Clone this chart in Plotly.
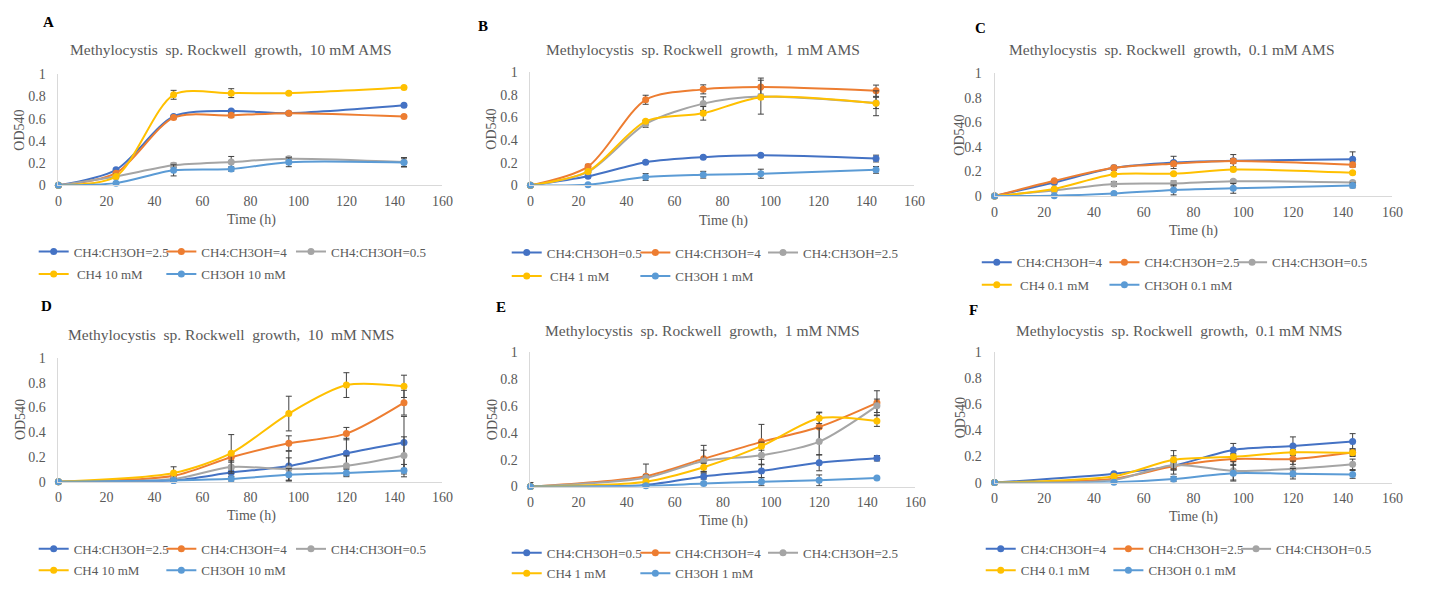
import plotly.graph_objects as go

W, H = 1442, 591

# ---------------- data ----------------
times_ams = [0, 24, 48, 72, 96, 144]
times_nms = [0, 48, 72, 96, 120, 144]

x_ticks = [0, 20, 40, 60, 80, 100, 120, 140, 160]
y_ticks = [0, 0.2, 0.4, 0.6, 0.8, 1]

colors = ["#4472C4", "#ED7D31", "#A5A5A5", "#FFC000", "#5B9BD5"]

titles = [
    "Methylocystis  sp. Rockwell  growth,  10 mM AMS",
    "Methylocystis  sp. Rockwell  growth,  1 mM AMS",
    "Methylocystis  sp. Rockwell  growth,  0.1 mM AMS",
    "Methylocystis  sp. Rockwell  growth,  10  mM NMS",
    "Methylocystis  sp. Rockwell  growth,  1 mM NMS",
    "Methylocystis  sp. Rockwell  growth,  0.1 mM NMS",
]
letters = ["A", "B", "C", "D", "E", "F"]

a_labels = ["CH4:CH3OH=2.5", "CH4:CH3OH=4", "CH4:CH3OH=0.5", " CH4 10 mM", "CH3OH 10 mM"]
a_vals = [
    [0, 0.14, 0.62, 0.67, 0.65, 0.72],
    [0, 0.11, 0.61, 0.63, 0.65, 0.62],
    [0, 0.08, 0.18, 0.21, 0.24, 0.21],
    [0, 0.08, 0.815, 0.83, 0.83, 0.88],
    [0, 0.02, 0.135, 0.147, 0.208, 0.205],
]
a_errs = [
    [0, 0.01, 0.01, 0.01, 0.01, 0.01],
    [0, 0.01, 0.01, 0.02, 0.01, 0.01],
    [0, 0.01, 0.02, 0.05, 0.02, 0.04],
    [0, 0.02, 0.04, 0.04, 0.01, 0.01],
    [0, 0.01, 0.05, 0.02, 0.04, 0.04],
]

b_labels = ["CH4:CH3OH=0.5", "CH4:CH3OH=4", "CH4:CH3OH=2.5", " CH4 1 mM", "CH3OH 1 mM"]
b_vals = [
    [0, 0.08, 0.205, 0.249, 0.266, 0.237],
    [0, 0.166, 0.757, 0.849, 0.869, 0.837],
    [0, 0.12, 0.543, 0.723, 0.786, 0.729],
    [0, 0.123, 0.566, 0.637, 0.78, 0.726],
    [0, 0.005, 0.074, 0.094, 0.103, 0.137],
]
b_errs = [
    [0, 0.01, 0.01, 0.01, 0.01, 0.03],
    [0, 0.02, 0.04, 0.04, 0.08, 0.05],
    [0, 0.01, 0.03, 0.06, 0.02, 0.05],
    [0, 0.01, 0.01, 0.06, 0.15, 0.11],
    [0, 0.01, 0.03, 0.03, 0.04, 0.03],
]

c_labels = ["CH4:CH3OH=4", "CH4:CH3OH=2.5", "CH4:CH3OH=0.5", " CH4 0.1 mM", "CH3OH 0.1 mM"]
c_vals = [
    [0, 0.11, 0.23, 0.274, 0.288, 0.30],
    [0, 0.124, 0.23, 0.264, 0.285, 0.256],
    [0, 0.045, 0.098, 0.103, 0.121, 0.11],
    [0, 0.058, 0.177, 0.182, 0.216, 0.19],
    [0, 0.003, 0.021, 0.05, 0.063, 0.087],
]
c_errs = [
    [0, 0.01, 0.02, 0.05, 0.05, 0.06],
    [0, 0.01, 0.01, 0.02, 0.02, 0.02],
    [0, 0.01, 0.02, 0.02, 0.01, 0.01],
    [0, 0.01, 0.01, 0.01, 0.01, 0.01],
    [0, 0.01, 0.01, 0.04, 0.04, 0.02],
]

d_labels = ["CH4:CH3OH=2.5", "CH4:CH3OH=4", "CH4:CH3OH=0.5", "CH4 10 mM", "CH3OH 10 mM"]
d_vals = [
    [0, 0.01, 0.073, 0.126, 0.23, 0.317],
    [0, 0.047, 0.197, 0.31, 0.388, 0.638],
    [0, 0.021, 0.118, 0.102, 0.128, 0.212],
    [0, 0.07, 0.23, 0.55, 0.78, 0.77],
    [0, 0.01, 0.023, 0.055, 0.07, 0.089],
]
d_errs = [
    [0, 0.01, 0.03, 0.12, 0.12, 0.21],
    [0, 0.02, 0.04, 0.06, 0.05, 0.10],
    [0, 0.01, 0.05, 0.09, 0.08, 0.15],
    [0, 0.05, 0.15, 0.14, 0.10, 0.09],
    [0, 0.01, 0.02, 0.05, 0.03, 0.05],
]

e_labels = ["CH4:CH3OH=0.5", "CH4:CH3OH=4", "CH4:CH3OH=2.5", "CH4 1 mM", "CH3OH 1 mM"]
e_vals = [
    [0, 0.012, 0.075, 0.116, 0.177, 0.21],
    [0, 0.077, 0.206, 0.332, 0.443, 0.622],
    [0, 0.065, 0.19, 0.232, 0.334, 0.60],
    [0, 0.036, 0.143, 0.30, 0.508, 0.487],
    [0, 0.005, 0.022, 0.036, 0.046, 0.063],
]
e_errs = [
    [0, 0.01, 0.02, 0.05, 0.06, 0.02],
    [0.03, 0.09, 0.10, 0.13, 0.11, 0.09],
    [0, 0.02, 0.08, 0.07, 0.10, 0.05],
    [0, 0.01, 0.03, 0.03, 0.04, 0.04],
    [0, 0.01, 0.01, 0.03, 0.04, 0.01],
]

f_labels = ["CH4:CH3OH=4", "CH4:CH3OH=2.5", "CH4:CH3OH=0.5", "CH4 0.1 mM", "CH3OH 0.1 mM"]
f_vals = [
    [0, 0.068, 0.13, 0.25, 0.28, 0.315],
    [0, 0.03, 0.125, 0.18, 0.18, 0.23],
    [0, 0.02, 0.135, 0.09, 0.105, 0.14],
    [0, 0.048, 0.175, 0.198, 0.232, 0.228],
    [0, 0.003, 0.027, 0.072, 0.068, 0.063],
]
f_errs = [
    [0, 0.01, 0.03, 0.05, 0.07, 0.06],
    [0, 0.01, 0.03, 0.04, 0.04, 0.03],
    [0, 0.01, 0.07, 0.07, 0.06, 0.04],
    [0, 0.01, 0.07, 0.02, 0.02, 0.02],
    [0, 0.01, 0.02, 0.06, 0.04, 0.03],
]

# ---------------- layout geometry (pixels) ----------------
panels = [
    dict(times=times_ams, labels=a_labels, vals=a_vals, errs=a_errs,
         box=(55, 443, 69, 183), title=(229, 44), letter=(45, 15),
         ylab=(16, 126), xlab=(250, 219), legx=(50, 179, 310), legy=(251, 274)),
    dict(times=times_ams, labels=b_labels, vals=b_vals, errs=b_errs,
         box=(532, 920, 67, 183), title=(706, 44), letter=(484, 19),
         ylab=(493, 125), xlab=(727, 220), legx=(528, 658, 787), legy=(252, 276)),
    dict(times=times_ams, labels=c_labels, vals=c_vals, errs=c_errs,
         box=(1001, 1403, 68, 194), title=(1180, 44), letter=(987, 22),
         ylab=(966, 131), xlab=(1202, 230), legx=(1003, 1132, 1261), legy=(262, 285)),
    dict(times=times_nms, labels=d_labels, vals=d_vals, errs=d_errs,
         box=(55, 443, 360, 487), title=(229, 336), letter=(43, 307),
         ylab=(16, 423), xlab=(250, 522), legx=(50, 179, 310), legy=(556, 578)),
    dict(times=times_nms, labels=e_labels, vals=e_vals, errs=e_errs,
         box=(532, 921, 354, 492), title=(706, 332), letter=(502, 308),
         ylab=(493, 423), xlab=(727, 527), legx=(528, 658, 787), legy=(560, 581)),
    dict(times=times_nms, labels=f_labels, vals=f_vals, errs=f_errs,
         box=(1001, 1403, 354, 488), title=(1187, 332), letter=(980, 311),
         ylab=(966, 421), xlab=(1202, 523), legx=(1007, 1136, 1265), legy=(556, 578)),
]

FONT = "Liberation Serif"
GREY = "#595959"
AXIS = "#D9D9D9"

fig = go.Figure()
annotations = []
layout = {}
leg_count = 0

for i, p in enumerate(panels):
    n = i + 1
    xa = "x" if n == 1 else f"x{n}"
    ya = "y" if n == 1 else f"y{n}"
    x0, x1, yt, yb = p["box"]
    layout["xaxis" if n == 1 else f"xaxis{n}"] = dict(
        domain=[x0 / W, x1 / W], anchor=ya, range=[0, 160],
        tickvals=x_ticks, showgrid=False, zeroline=False,
        showline=True, linecolor=AXIS, linewidth=1, ticks="",
        ticklabelstandoff=3,
        tickfont=dict(family=FONT, size=14, color=GREY), fixedrange=True)
    layout["yaxis" if n == 1 else f"yaxis{n}"] = dict(
        domain=[1 - yb / H, 1 - yt / H], anchor=xa, range=[0, 1],
        tickvals=y_ticks, showgrid=False, zeroline=False,
        showline=True, linecolor=AXIS, linewidth=1, ticks="",
        ticklabelstandoff=9,
        tickfont=dict(family=FONT, size=14, color=GREY), fixedrange=True)

    for k in range(5):
        leg_count += 1
        key = "legend" if leg_count == 1 else f"legend{leg_count}"
        mx = p["legx"][k % 3]
        my = p["legy"][0 if k < 3 else 1]
        layout[key] = dict(
            orientation="h", x=(mx - 20) / W, y=1 - my / H, xanchor="left", yanchor="middle",
            bgcolor="rgba(0,0,0,0)", borderwidth=0,
            font=dict(family=FONT, size=13, color=GREY), itemclick=False,
            itemdoubleclick=False)
        fig.add_trace(go.Scatter(
            x=p["times"], y=p["vals"][k], name=p["labels"][k],
            mode="lines+markers", xaxis=xa, yaxis=ya, legend=key,
            line=dict(color=colors[k], width=2, shape="spline", smoothing=0.8),
            marker=dict(color=colors[k], size=7, symbol="circle"),
            error_y=dict(type="data", array=p["errs"][k], visible=True,
                         color="#404040", thickness=1, width=3),
            cliponaxis=False))

    tx, ty = p["title"]
    annotations.append(dict(x=tx / W, y=1 - ty / H, xref="paper", yref="paper",
                            text=titles[i], showarrow=False, xanchor="center", yanchor="middle",
                            font=dict(family=FONT, size=15.5, color=GREY)))
    lx_, ly_ = p["letter"]
    annotations.append(dict(x=lx_ / W, y=1 - ly_ / H, xref="paper", yref="paper",
                            text=f"<b>{letters[i]}</b>", showarrow=False, xanchor="center",
                            yanchor="middle", font=dict(family=FONT, size=15, color="#000000")))
    ox, oy = p["ylab"]
    annotations.append(dict(x=ox / W, y=1 - oy / H, xref="paper", yref="paper",
                            text="OD540", showarrow=False, textangle=-90, xanchor="center",
                            yanchor="middle", font=dict(family=FONT, size=14, color=GREY)))
    tx2, ty2 = p["xlab"]
    annotations.append(dict(x=tx2 / W, y=1 - ty2 / H, xref="paper", yref="paper",
                            text="Time (h)", showarrow=False, xanchor="center", yanchor="middle",
                            font=dict(family=FONT, size=14, color=GREY)))

fig.update_layout(
    width=W, height=H, margin=dict(l=0, r=0, t=0, b=0),
    paper_bgcolor="white", plot_bgcolor="white",
    showlegend=True, annotations=annotations, **layout)

post = ("document.documentElement.style.margin='0';document.body.style.margin='0';"
        "document.body.style.overflow='hidden';"
        "var gd=document.querySelector('.plotly-graph-div');"
        "gd.style.position='fixed';gd.style.left='0px';gd.style.top='0px';")

fig.write_html("out.html", config={"displayModeBar": False}, post_script=post)
